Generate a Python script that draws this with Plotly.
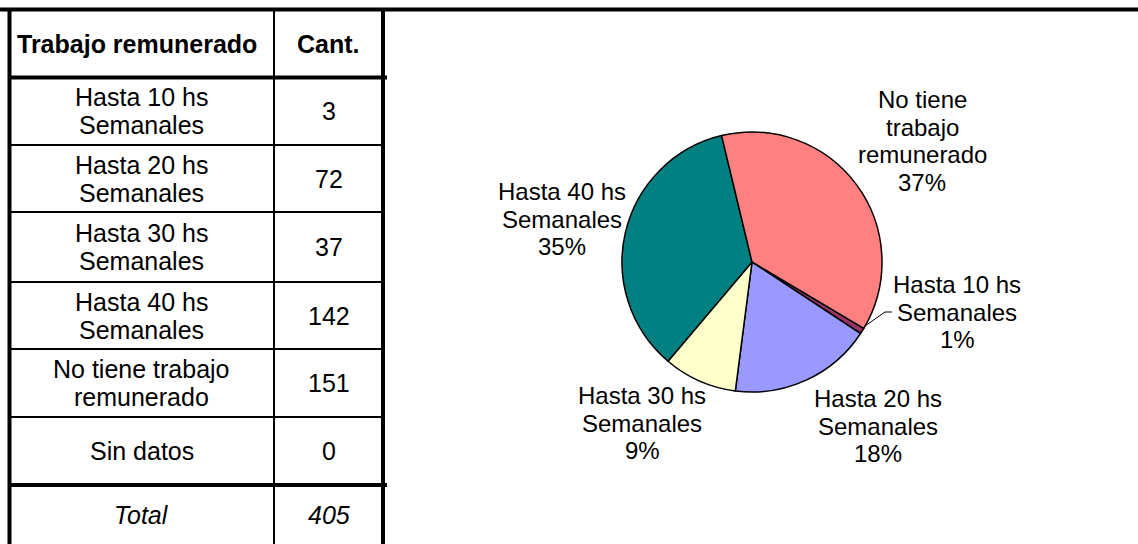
import plotly.graph_objects as go

W, H = 1138, 544
FONT = "Liberation Sans, Arial, sans-serif"

# ---------------------------------------------------------------------------
# Datos
# ---------------------------------------------------------------------------
encabezados = ["Trabajo remunerado", "Cant."]
categorias = [
    "Hasta 10 hs Semanales",
    "Hasta 20 hs Semanales",
    "Hasta 30 hs Semanales",
    "Hasta 40 hs Semanales",
    "No tiene trabajo remunerado",
    "Sin datos",
]
cantidades = [3, 72, 37, 142, 151, 0]
etiquetas_tabla = [
    "Hasta 10 hs<br>Semanales",
    "Hasta 20 hs<br>Semanales",
    "Hasta 30 hs<br>Semanales",
    "Hasta 40 hs<br>Semanales",
    "No tiene trabajo<br>remunerado",
    "Sin datos",
]
etiquetas_torta = [
    "Hasta 10 hs<br>Semanales",
    "Hasta 20 hs<br>Semanales",
    "Hasta 30 hs<br>Semanales",
    "Hasta 40 hs<br>Semanales",
    "No tiene<br>trabajo<br>remunerado",
    "Sin datos",
]
colores = ["#993366", "#9999FF", "#FFFFCC", "#008080", "#FF8080", "#FFFFFF"]
total = sum(cantidades)

# posiciones de las etiquetas de la torta (centro x, centro y), en pixeles
pos_etiquetas = {
    "Hasta 10 hs Semanales": (957, 312),
    "Hasta 20 hs Semanales": (878, 426),
    "Hasta 30 hs Semanales": (642, 423),
    "Hasta 40 hs Semanales": (562, 219),
    "No tiene trabajo remunerado": (922, 141),
}

# geometria de la tabla (pixeles)
x_izq, x_sep, x_der = 9.5, 274, 383
filas = [9.5, 77.5, 145, 212, 282, 349, 417, 485, 545]

# torta: centro y radio en pixeles
cx, cy, rad = 752, 262, 130

fig = go.Figure()

# --- torta ---
sel = [i for i, v in enumerate(cantidades) if v > 0]
fig.add_trace(go.Pie(
    labels=[categorias[i] for i in sel],
    values=[cantidades[i] for i in sel],
    marker=dict(colors=[colores[i] for i in sel],
                line=dict(color="black", width=1.5)),
    sort=False,
    direction="clockwise",
    rotation=120.7,
    textinfo="none",
    hoverinfo="label+value+percent",
    showlegend=False,
    domain=dict(x=[(cx - rad) / W, (cx + rad) / W],
                y=[1 - (cy + rad) / H, 1 - (cy - rad) / H]),
))

annotations = []


def texto(x, y, txt, size, spacing, bold=False, italic=False):
    lineas = txt.split("<br>")
    n = len(lineas)
    for k, ln in enumerate(lineas):
        if bold:
            ln = f"<b>{ln}</b>"
        if italic:
            ln = f"<i>{ln}</i>"
        annotations.append(dict(
            x=x, y=y + (k - (n - 1) / 2) * spacing, xref="x", yref="y",
            text=ln, showarrow=False, xanchor="center", yanchor="middle",
            font=dict(family=FONT, size=size, color="black"),
        ))


# etiquetas de la torta
for i in sel:
    pct = round(cantidades[i] / total * 100)
    px, py = pos_etiquetas[categorias[i]]
    texto(px, py, f"{etiquetas_torta[i]}<br>{pct}%", 24, 27.5)

# --- tabla ---
col1 = (x_izq + x_sep) / 2
col2 = (x_sep + x_der) / 2
texto(col1 - 5, (filas[0] + filas[1]) / 2, encabezados[0], 25, 28, bold=True)
texto(col2, (filas[0] + filas[1]) / 2, encabezados[1], 25, 28, bold=True)
for r, (lab, val) in enumerate(zip(etiquetas_tabla, cantidades)):
    yc = (filas[r + 1] + filas[r + 2]) / 2
    texto(col1, yc, lab, 25, 28)
    texto(col2, yc, str(val), 25, 28)
yc = (filas[-2] + filas[-1]) / 2
texto(col1, yc, "Total", 25, 28, italic=True)
texto(col2, yc, str(total), 25, 28, italic=True)

shapes = []


def linea(x0, y0, x1, y1, w):
    shapes.append(dict(type="line", xref="x", yref="y", x0=x0, y0=y0, x1=x1, y1=y1,
                       line=dict(color="black", width=w)))


linea(0, filas[0], W, filas[0], 4)          # borde superior
linea(x_izq, filas[0], x_izq, H, 4)         # borde izquierdo
linea(x_der, filas[0], x_der, H, 4)         # borde derecho
linea(x_sep, filas[0], x_sep, H, 2)         # separador de columnas
linea(x_izq, filas[1], x_der + 4, filas[1], 4)
for yb in filas[2:-2]:
    linea(x_izq, yb, x_der, yb, 2)
linea(x_izq, filas[-2], x_der + 4, filas[-2], 4)

# linea guia de "Hasta 10 hs"
linea(865, 326, 885, 312, 1)
linea(885, 312, 892, 312, 1)

fig.update_layout(
    width=W, height=H,
    margin=dict(l=0, r=0, t=0, b=0),
    paper_bgcolor="white", plot_bgcolor="white",
    xaxis=dict(range=[0, W], visible=False, fixedrange=True),
    yaxis=dict(range=[H, 0], visible=False, fixedrange=True),
    annotations=annotations,
    shapes=shapes,
)

# sin margen del body para que el grafico ocupe la ventana desde (0, 0)
fig.write_html("out.html",
               config={"displayModeBar": False},
               post_script="document.body.style.margin='0px';"
                           "document.body.style.overflow='hidden';")
